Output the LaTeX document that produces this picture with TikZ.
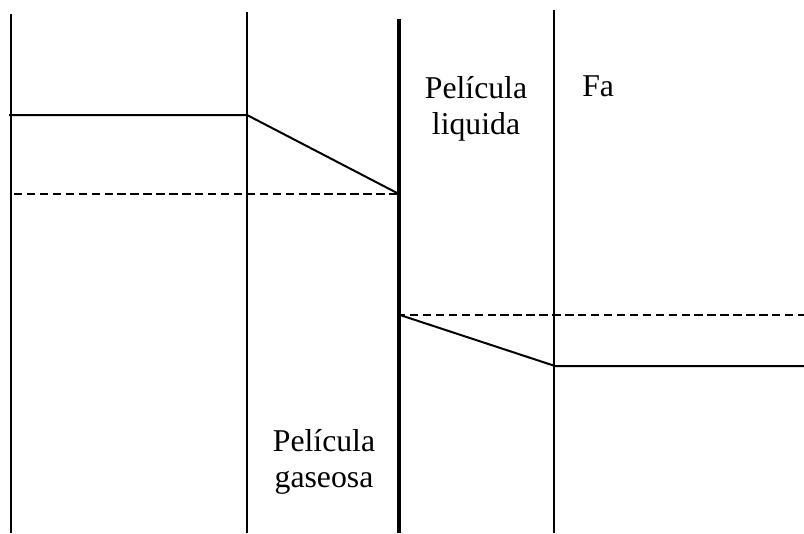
\documentclass[tikz,border=0pt]{standalone}
\usepackage{fontspec}
\setmainfont{Liberation Serif}
\begin{document}
\begin{tikzpicture}[x=0.75pt,y=-0.75pt,
  thin line/.style={line width=1.5pt},
  thick line/.style={line width=3.4pt},
  dash line/.style={line width=1.5pt,dash pattern=on 6.3pt off 3.4pt},
  lbl/.style={font=\fontsize{23.8}{27}\selectfont,inner sep=0pt,anchor=base}]
\useasboundingbox (0,0) rectangle (804,533);
% film boundaries
\coordinate (a1) at (11,14);  \coordinate (a2) at (11,533);
\coordinate (b1) at (247,12); \coordinate (b2) at (247,533);
\coordinate (c1) at (399,19); \coordinate (c2) at (399,533);
\coordinate (d1) at (554,10); \coordinate (d2) at (554,533);
\draw[thin line] (a1) -- (a2);
\draw[thin line] (b1) -- (b2);
\draw[thick line] (c1) -- (c2);
\draw[thin line] (d1) -- (d2);
% gas-side profile
\coordinate (g0) at (9,115);
\coordinate (g1) at (247,115);
\coordinate (gi) at (399,194);
\draw[thin line] (g0) -- (g1) -- (gi);
\coordinate (ge) at (14,194);
\draw[dash line] (ge) -- (gi);
% liquid-side profile
\coordinate (li) at (400,315);
\coordinate (l1) at (555,366);
\coordinate (l2) at (804,366);
\draw[thin line] (li) -- (l1) -- (l2);
\coordinate (ls) at (397,315);
\coordinate (le) at (804,315);
\draw[dash line] (ls) -- (le);
% labels
\node[lbl] (pl1) at (476,98) {Película};
\node[lbl] (pl2) at (476,134) {liquida};
\node[lbl,anchor=base west] (fa) at (582,96) {Fa};
\node[lbl] (pg1) at (324,451) {Película};
\node[lbl] (pg2) at (324,487) {gaseosa};
\end{tikzpicture}
\end{document}
